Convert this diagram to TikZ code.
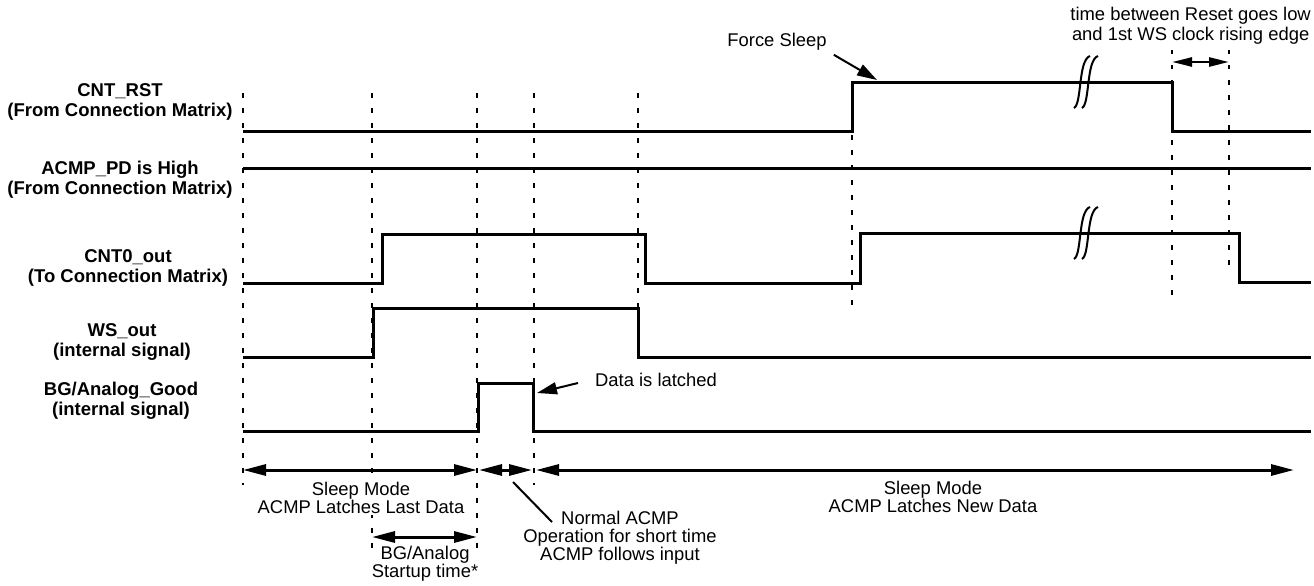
\documentclass[tikz,border=0pt]{standalone}
\usepackage{fontspec}
\setmainfont{Liberation Sans}
\usetikzlibrary{arrows.meta, positioning}

\begin{document}
\begin{tikzpicture}[x=1pt, y=-1pt,
          sig/.style={line width=3pt, line join=miter},
          tmark/.style={line width=2.7pt, dash pattern=on 4.5pt off 10.5pt},
          lbl/.style={font=\bfseries\fontsize{18.5}{20}\selectfont, align=center},
          txt/.style={font=\fontsize{18.4}{18}\selectfont, align=center, inner sep=1pt},
          span/.style={{Triangle[length=23pt, width=11pt]}-{Triangle[length=23pt, width=11pt]}, line width=3pt},
          spansm/.style={{Triangle[length=20pt, width=9pt]}-{Triangle[length=20pt, width=9pt]}, line width=2.5pt},
          ptr/.style={-{Triangle[length=20pt, width=12pt]}, line width=2pt},
          brk/.style={line width=2pt}
        ]
        \useasboundingbox (0,0) rectangle (1314,586);
        % signal names
        \node[lbl] (rst) at (120,102) {CNT\_RST\\(From Connection Matrix)};
        \node[lbl] (pd)  at (120,180) {ACMP\_PD is High\\(From Connection Matrix)};
        \node[lbl] (cnt) at (128,268) {CNT0\_out\\(To Connection Matrix)};
        \node[lbl] (ws)  at (122,342) {WS\_out\\(internal signal)};
        \node[lbl] (bg)  at (121,401) {BG/Analog\_Good\\(internal signal)};
        % time markers
        \coordinate (t0) at (243,93);
        \coordinate (t1) at (372,93);
        \coordinate (t2) at (477,93);
        \coordinate (t3) at (534,93);
        \coordinate (t4) at (638,93);
        \coordinate (t5) at (852,135);
        \coordinate (t6) at (1172,50);
        \coordinate (t7) at (1229,50);
        \coordinate (tend) at (1294,93);
        \draw[tmark] (t0) -- ++(0,392);
        \draw[tmark] (t1) -- ++(0,455);
        \draw[tmark] (t2) -- ++(0,455);
        \draw[tmark] (t3) -- ++(0,392);
        \draw[tmark] (t4) -- ++(0,215);
        \draw[tmark] (t5) -- ++(0,170);
        \draw[tmark] (t6) -- ++(0,248);
        \draw[tmark] (t7) -- ++(0,223);
        % waveforms
        \draw[sig] (243,131) -- (852,131) -- (852,82) -- (1172,82) -- (1172,131) -- (1311,131);
        \draw[sig] (243,168) -- (1311,168);
        \draw[sig] (243,283) -- (382,283) -- (382,234) -- (645,234) -- (645,283)
          -- (860,283) -- (860,233) -- (1239,233) -- (1239,282) -- (1311,282);
        \draw[sig] (243,357) -- (373,357) -- (373,308) -- (638,308) -- (638,357) -- (1311,357);
        \draw[sig] (243,431) -- (478,431) -- (478,383) -- (533,383) -- (533,431) -- (1311,431);
        % break marks
        \foreach \y in {82,233} {
          \foreach \dx in {0,8} {
            \draw[brk] (1074+\dx,\y+26) .. controls (1082+\dx,\y+22) and (1078+\dx,\y-22) .. (1090+\dx,\y-26);
          }
        }
        % durations
        \coordinate (dim)    at (0,470);
        \coordinate (dimbg)  at (0,537);
        \coordinate (dimgap) at (0,62);
        \draw[span] (t0 |- dim) -- (t2 |- dim);
        \draw[span, shorten <=2pt, shorten >=2pt] (t2 |- dim) -- (t3 |- dim);
        \draw[span, shorten <=2pt] (t3 |- dim) -- (tend |- dim);
        \draw[span] (t1 |- dimbg) -- (t2 |- dimbg);
        \draw[spansm] (t6 |- dimgap) -- (t7 |- dimgap);
        % annotations
        \node[txt, fill=white] (slast) at (361,498) {Sleep Mode\\ACMP Latches Last Data};
        \node[txt] (start) at (425,564) {BG/Analog\\Startup time*};
        \node[txt] (norm)  at (620,538) {Normal ACMP\\Operation for short time\\ACMP follows input};
        \node[txt] (snew)  at (933,497) {Sleep Mode\\ACMP Latches New Data};
        \node[txt] (latch) at (656,380) {Data is latched};
        \node[txt] (force) at (777,42)  {Force Sleep};
        \node[txt, font=\fontsize{18.4}{20}\selectfont, anchor=east] (gap) at (1312,26)
          {time between Reset goes low\\and 1st WS clock rising edge};
        \coordinate (fsedge) at (877,80);
        \coordinate (bgfall) at (537,393);
        \coordinate (opend)  at (513,482);
        \coordinate (optext) at (552,522);
        \draw[ptr] ([xshift=6pt, yshift=-3pt]force.south east) -- (fsedge);
        \draw[ptr] ([xshift=-16pt, yshift=-3pt]latch.west) -- (bgfall);
        \draw[brk] (opend) -- (optext);
      \end{tikzpicture}
\end{document}
